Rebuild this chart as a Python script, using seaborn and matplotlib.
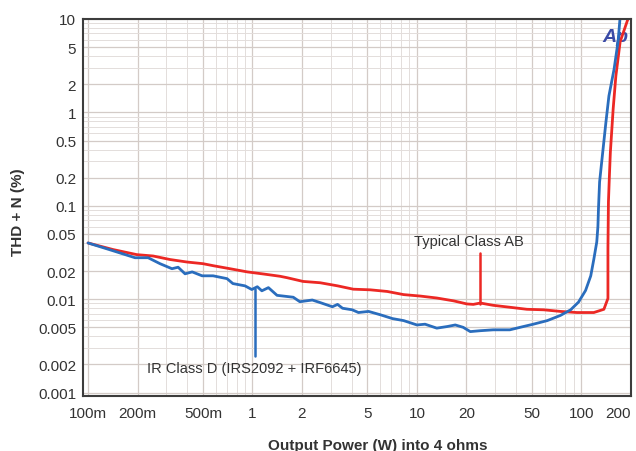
import pandas as pd
import matplotlib
matplotlib.use("Agg")
import matplotlib.pyplot as plt
import seaborn as sns

# Typical Class AB amplifier
ab_power = [0.1, 0.142, 0.198, 0.249, 0.315, 0.40, 0.50, 0.58, 0.73, 0.93, 1.17, 1.47, 1.62,
            2.03, 2.58, 3.29, 4.1, 5.2, 6.6, 8.3, 10.5, 13.2, 16.7, 20.1, 22.0, 24.3, 29.1,
            36.7, 46.6, 59, 74.5, 94, 119, 137, 145, 145, 145, 146, 148, 150, 156, 162, 172,
            190, 196]
ab_thd = [0.040, 0.034, 0.030, 0.029, 0.0266, 0.025, 0.024, 0.0228, 0.0212, 0.0196, 0.0186,
          0.0176, 0.0170, 0.0155, 0.0150, 0.0139, 0.0128, 0.0126, 0.0121, 0.0112, 0.0108,
          0.0103, 0.0096, 0.0089, 0.0088, 0.0091, 0.0086, 0.0082, 0.0078, 0.0077, 0.0074,
          0.0072, 0.0072, 0.0078, 0.0102, 0.0168, 0.035, 0.11, 0.21, 0.375, 1.09, 2.45, 5.7,
          9.5, 11]

# IR Class D (IRS2092 + IRF6645)
d_power = [0.1, 0.142, 0.193, 0.232, 0.274, 0.324, 0.353, 0.389, 0.43, 0.494, 0.576, 0.70,
           0.76, 0.90, 0.99, 1.07, 1.14, 1.25, 1.41, 1.77, 1.94, 2.31, 2.58, 3.06, 3.29, 3.53,
           4.04, 4.41, 5.08, 6.01, 7.1, 8.3, 10.0, 11.2, 13.2, 15.3, 17.1, 19.1, 21.1, 24.3,
           29.1, 36.7, 42.4, 51, 62, 74.5, 86, 96, 106, 114, 119, 124, 126, 127, 129, 133,
           141, 147, 158, 167, 172]
d_thd = [0.040, 0.033, 0.0278, 0.0278, 0.024, 0.0212, 0.022, 0.0187, 0.0196, 0.0178, 0.0178,
         0.0166, 0.0147, 0.0139, 0.0127, 0.0136, 0.0123, 0.0133, 0.0110, 0.0105, 0.0094,
         0.0098, 0.0092, 0.0083, 0.0088, 0.0080, 0.0077, 0.0072, 0.0074, 0.0068, 0.0062,
         0.0059, 0.0053, 0.0054, 0.0049, 0.0051, 0.0053, 0.0050, 0.0045, 0.0046, 0.0047,
         0.0047, 0.0050, 0.0054, 0.0059, 0.0067, 0.0077, 0.0093, 0.0124, 0.0178, 0.0268,
         0.041, 0.06, 0.093, 0.18, 0.30, 0.79, 1.5, 2.9, 5.7, 10.5]

x_ticks = [0.1, 0.2, 0.5, 1, 2, 5, 10, 20, 50, 100, 200]
x_labels = ["100m", "200m", "500m", "1", "2", "5", "10", "20", "50", "100", "200"]
y_ticks = [0.001, 0.002, 0.005, 0.01, 0.02, 0.05, 0.1, 0.2, 0.5, 1, 2, 5, 10]
y_labels = ["0.001", "0.002", "0.005", "0.01", "0.02", "0.05", "0.1", "0.2", "0.5", "1", "2", "5", "10"]

ab_data = pd.DataFrame({"power": ab_power, "thd": ab_thd})
d_data = pd.DataFrame({"power": d_power, "thd": d_thd})

sns.set_theme(style="white")
plt.rcParams["font.family"] = ["Liberation Sans", "DejaVu Sans"]

red = "#ec2824"
blue = "#2a6dbd"
text_col = "#333333"

fig = plt.figure(figsize=(6.36, 4.52), dpi=100)
ax = fig.add_axes([0.1305, 0.1217, 0.8615, 0.8341])
ax.set_xscale("log")
ax.set_yscale("log")

sns.lineplot(data=ab_data, x="power", y="thd", sort=False, estimator=None,
             color=red, linewidth=2.0, ax=ax)
sns.lineplot(data=d_data, x="power", y="thd", sort=False, estimator=None,
             color=blue, linewidth=2.0, ax=ax)

ax.set_xlim(0.0932, 200)
ax.set_ylim(0.00092, 10)

ax.set_xticks(x_ticks)
ax.set_xticklabels(x_labels)
ax.set_yticks(y_ticks)
ax.set_yticklabels(y_labels)
ax.xaxis.get_majorticklabels()[-1].set_horizontalalignment("right")
ax.tick_params(axis="both", which="both", length=0, labelsize=11, labelcolor=text_col)
ax.tick_params(axis="x", pad=7)
ax.tick_params(axis="y", pad=5)

ax.grid(True, which="major", color="#d3cbc7", linewidth=0.9)
ax.grid(True, which="minor", color="#e3dddb", linewidth=0.7)
ax.set_axisbelow(True)
for side in ax.spines.values():
    side.set_color("#3c3c3c")
    side.set_linewidth(1.5)

ax.set_xlabel("Output Power (W) into 4 ohms", fontsize=11, fontweight="bold", color=text_col)
ax.xaxis.set_label_coords(0.538, -0.111)
ax.set_ylabel("THD + N (%)", fontsize=11, fontweight="bold", color=text_col)
ax.yaxis.set_label_coords(-0.106, 0.49)

# callouts
ax.plot([24.3, 24.3], [0.031, 0.0089], color=red, linewidth=1.8)
ax.text(20.8, 0.042, "Typical Class AB", fontsize=10.5, color=text_col,
        ha="center", va="center")
ax.plot([1.03, 1.03], [0.00247, 0.0129], color=blue, linewidth=1.8)
ax.text(1.02, 0.00183, "IR Class D (IRS2092 + IRF6645)", fontsize=10.5, color=text_col,
        ha="center", va="center")

ax.text(0.971, 0.942, "Ap", transform=ax.transAxes, fontsize=14, fontweight="bold",
        fontstyle="italic", color="#3b4ba6", ha="center", va="baseline", zorder=1)

fig.savefig("out.png", dpi=100)
